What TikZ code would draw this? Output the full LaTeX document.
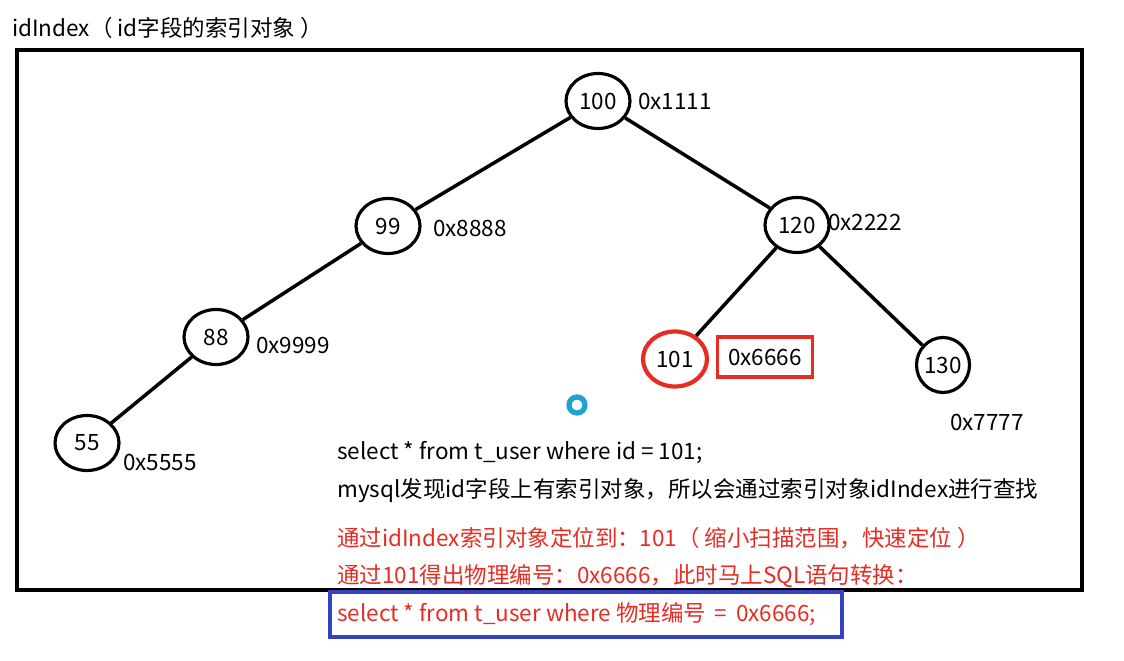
\documentclass[tikz,border=0pt]{standalone}
\usepackage{fontspec}
\setmainfont{Noto Sans CJK SC}
\usetikzlibrary{shapes.geometric}
\definecolor{hired}{RGB}{230,45,35}
\definecolor{boxblue}{RGB}{55,65,195}
\begin{document}
\begin{tikzpicture}[x=0.02cm, y=-0.02cm, font=\fontsize{12.8}{14}\selectfont,
  key/.style={ellipse, draw, line width=1.8pt, minimum width=1.28cm, minimum height=1.1cm, inner sep=0pt},
  addr/.style={inner sep=1pt},
  edge/.style={line width=2pt}]
  \useasboundingbox (0,0) rectangle (1124,661);
  % \draw[step=50,lightgray,ultra thin] (0,0) grid (1124,661);
  \node[anchor=west] (title) at (6,28) {idIndex（ id字段的索引对象 ）};
  \draw[line width=2.2pt] (17,50) rectangle (1082,590);
  % tree
  \node[key] (k100) at (598,101) {100};
  \node[key] (k99) at (388,226) {99};
  \node[key] (k120) at (797,225) {120};
  \node[key] (k88) at (216,337) {88};
  \node[key, draw=hired, line width=2.4pt] (k101) at (675,359) {101};
  \node[key, minimum width=1.06cm] (k130) at (943,365) {130};
  \node[key] (k55) at (87,443) {55};
  \draw[edge] (k100) -- (k99);
  \draw[edge] (k100) -- (k120);
  \draw[edge] (k99) -- (k88);
  \draw[edge] (k88) -- (k55);
  \draw[edge] (k120) -- (k101);
  \draw[edge] (k120) -- (k130);
  % addresses
  \node[addr, anchor=west] (a100) at (636,101) {0x1111};
  \node[addr, anchor=west] (a99) at (431,228) {0x8888};
  \node[addr, anchor=west] (a120) at (826,222) {0x2222};
  \node[addr, anchor=west] (a88) at (254,345) {0x9999};
  \node[anchor=west, draw=hired, line width=1.8pt, minimum width=1.9cm, minimum height=0.8cm, inner sep=4pt] (a101) at (716,357) {0x6666};
  \node[addr, anchor=west] (a130) at (948,422) {0x7777};
  \node[addr, anchor=west] (a55) at (121,462) {0x5555};
  \draw[cyan!70!teal, line width=3pt] (577,405) circle (8);
  % explanation
  \node[anchor=west] (l1) at (331,453) {select * from t\_user where id = 101;};
  \node[anchor=west] (l2) at (331,491) {mysql发现id字段上有索引对象，所以会通过索引对象idIndex进行查找};
  \node[anchor=west, text=hired] (l3) at (331,538) {通过idIndex索引对象定位到：101（ 缩小扫描范围，快速定位 ）};
  \node[anchor=west, text=hired] (l4) at (331,576) {通过101得出物理编号：0x6666，此时马上SQL语句转换：};
  \draw[boxblue, line width=2pt] (330,592) rectangle (842,637);
  \node[anchor=west, text=hired] (l5) at (331,614) {select * from t\_user where 物理编号 \,=\, 0x6666;};
\end{tikzpicture}
\end{document}
